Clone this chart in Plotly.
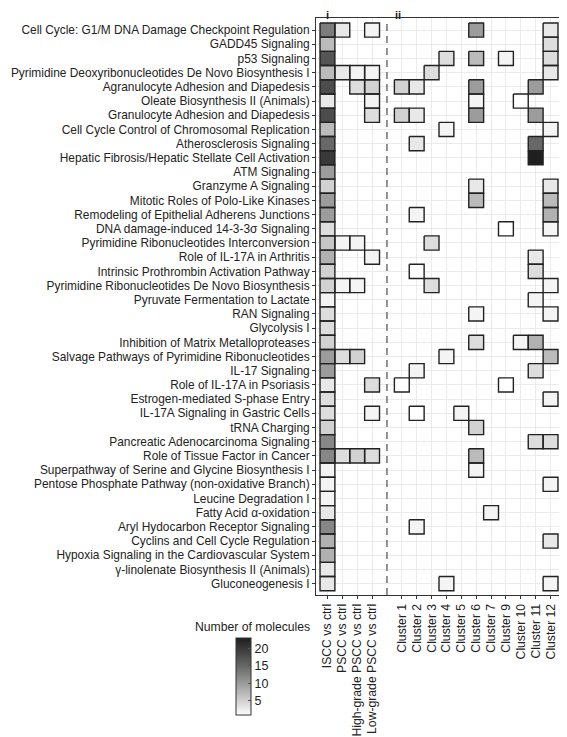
import plotly.graph_objects as go

pathways = [
    "Cell Cycle: G1/M DNA Damage Checkpoint Regulation",
    "GADD45 Signaling",
    "p53 Signaling",
    "Pyrimidine Deoxyribonucleotides De Novo Biosynthesis I",
    "Agranulocyte Adhesion and Diapedesis",
    "Oleate Biosynthesis II (Animals)",
    "Granulocyte Adhesion and Diapedesis",
    "Cell Cycle Control of Chromosomal Replication",
    "Atherosclerosis Signaling",
    "Hepatic Fibrosis/Hepatic Stellate Cell Activation",
    "ATM Signaling",
    "Granzyme A Signaling",
    "Mitotic Roles of Polo-Like Kinases",
    "Remodeling of Epithelial Adherens Junctions",
    "DNA damage-induced 14-3-3σ Signaling",
    "Pyrimidine Ribonucleotides Interconversion",
    "Role of IL-17A in Arthritis",
    "Intrinsic Prothrombin Activation Pathway",
    "Pyrimidine Ribonucleotides De Novo Biosynthesis",
    "Pyruvate Fermentation to Lactate",
    "RAN Signaling",
    "Glycolysis I",
    "Inhibition of Matrix Metalloproteases",
    "Salvage Pathways of Pyrimidine Ribonucleotides",
    "IL-17 Signaling",
    "Role of IL-17A in Psoriasis",
    "Estrogen-mediated S-phase Entry",
    "IL-17A Signaling in Gastric Cells",
    "tRNA Charging",
    "Pancreatic Adenocarcinoma Signaling",
    "Role of Tissue Factor in Cancer",
    "Superpathway of Serine and Glycine Biosynthesis I",
    "Pentose Phosphate Pathway (non-oxidative Branch)",
    "Leucine Degradation I",
    "Fatty Acid α-oxidation",
    "Aryl Hydocarbon Receptor Signaling",
    "Cyclins and Cell Cycle Regulation",
    "Hypoxia Signaling in the Cardiovascular System",
    "γ-linolenate Biosynthesis II (Animals)",
    "Gluconeogenesis I",
]

columns = ["ISCC vs ctrl", "PSCC vs ctrl", "High-grade PSCC vs ctrl", "Low-grade PSCC vs ctrl", " ",
           "Cluster 1", "Cluster 2", "Cluster 3", "Cluster 4", "Cluster 5", "Cluster 6",
           "Cluster 7", "Cluster 9", "Cluster 10", "Cluster 11", "Cluster 12"]

# values per column, keyed by row number (1-based, matching pathways order); missing = no tile
iscc = [13, 7, 17, 7, 18, 3, 18, 7, 15, 20, 10, 5, 10, 10, 4, 6, 8, 5, 5, 2,
        4, 4, 5, 10, 10, 3, 4, 4, 5, 12, 12, 2, 2, 2, 3, 12, 8, 8, 3, 3]
pscc = {1: 3, 4: 3, 16: 2, 19: 2, 24: 4, 31: 4}
high_grade = {4: 2, 5: 4, 16: 2, 19: 2, 24: 5, 31: 5}
low_grade = {1: 2, 4: 2, 5: 5, 6: 2, 7: 4, 17: 2, 26: 4, 28: 2, 31: 4}
cluster1 = {5: 5, 7: 5, 26: 1}
cluster2 = {5: 3, 7: 3, 9: 3, 14: 2, 18: 1, 25: 2, 28: 1, 36: 2}
cluster3 = {4: 4, 16: 4, 19: 4}
cluster4 = {3: 4, 8: 2, 24: 2, 40: 2}
cluster5 = {28: 2}
cluster6 = {1: 10, 3: 7, 5: 10, 6: 2, 7: 10, 12: 3, 13: 7, 21: 2, 23: 4, 29: 5, 31: 7, 32: 2}
cluster7 = {35: 2}
cluster9 = {3: 2, 15: 1, 26: 1}
cluster10 = {6: 1, 23: 2}
cluster11 = {5: 10, 7: 10, 9: 15, 10: 23, 17: 3, 18: 4, 20: 2, 23: 8, 25: 4, 30: 4}
cluster12 = {1: 3, 2: 4, 3: 4, 4: 3, 8: 2, 12: 3, 13: 7, 14: 8, 15: 2, 19: 2, 21: 2,
             24: 7, 27: 2, 30: 4, 33: 2, 37: 3, 40: 2}

colorbar_ticks = [5, 10, 15, 20]

n_rows = len(pathways)
col_data = [
    {i + 1: v for i, v in enumerate(iscc)},
    pscc, high_grade, low_grade, {},
    cluster1, cluster2, cluster3, cluster4, cluster5, cluster6,
    cluster7, cluster9, cluster10, cluster11, cluster12,
]

z = [[col.get(r + 1) for col in col_data] for r in range(n_rows)]


# Lab-like (L*) interpolation white -> near black
def gray_from_L(L):
    Y = ((L + 16) / 116) ** 3 if L > 8 else L / 903.3
    c = 12.92 * Y if Y <= 0.0031308 else 1.055 * Y ** (1 / 2.4) - 0.055
    g = max(0, min(255, round(c * 255)))
    return f"rgb({g},{g},{g})"


L_high = 12.0
stops = 12
colorscale = [[i / (stops - 1), gray_from_L(100 - (100 - L_high) * i / (stops - 1))] for i in range(stops)]

font_family = "Liberation Sans, Arial, sans-serif"
text_size = 12.2

fig = go.Figure()
fig.add_trace(go.Heatmap(
    z=z,
    x=list(range(len(columns))),
    y=list(range(n_rows)),
    zmin=1, zmax=23,
    colorscale=colorscale,
    hoverongaps=False,
    colorbar=dict(
        thickness=15, lenmode="pixels", len=77,
        x=-0.325, xanchor="left", xref="paper",
        y=-0.141, yanchor="middle", yref="paper",
        xpad=0, ypad=0,
        outlinewidth=1, outlinecolor="#333333",
        tickvals=colorbar_ticks,
        ticks="inside", ticklen=3, tickcolor="#555555",
        tickfont=dict(size=12.5, color="#222222", family=font_family),
    ),
))

# tile outlines derived from the data
ox, oy = [], []
for r in range(n_rows):
    for c in range(len(columns)):
        if z[r][c] is not None:
            ox += [c - 0.5, c + 0.5, c + 0.5, c - 0.5, c - 0.5, None]
            oy += [r - 0.5, r - 0.5, r + 0.5, r + 0.5, r - 0.5, None]
fig.add_trace(go.Scatter(x=ox, y=oy, mode="lines", line=dict(color="#222222", width=1.4),
                         hoverinfo="skip", showlegend=False))

gap_index = columns.index(" ")
fig.add_shape(type="line", xref="x", yref="paper", x0=gap_index, x1=gap_index, y0=0, y1=0.99,
              line=dict(color="#666666", width=1.4, dash="7px,5px"))

# panel labels sit at the very top edge of the figure
fig.add_annotation(text="<b>i</b>", xref="x", yref="paper", x=0, y=1.0173, yanchor="top",
                   showarrow=False, borderpad=0,
                   font=dict(size=11, color="#222222", family=font_family))
fig.add_annotation(text="<b>ii</b>", xref="x", yref="paper", x=columns.index("Cluster 1") - 0.25, y=1.0173,
                   yanchor="top", showarrow=False, borderpad=0,
                   font=dict(size=11, color="#222222", family=font_family))
fig.add_annotation(text="Number of molecules", xref="paper", yref="paper", x=-0.50, xanchor="left",
                   y=-0.055, yanchor="middle", showarrow=False,
                   font=dict(size=text_size, color="#222222", family=font_family))

tick_cols = [i for i, c in enumerate(columns) if c.strip()]
fig.update_xaxes(
    range=[-0.77, len(columns) - 1 + 0.77],
    tickvals=tick_cols, ticktext=[columns[i] for i in tick_cols],
    tickangle=-90, ticks="outside", ticklen=3, tickcolor="#333333",
    showgrid=True, gridcolor="#ebebeb", gridwidth=1,
    showline=True, mirror=True, linecolor="#333333", linewidth=1,
    zeroline=False, automargin=False,
    tickfont=dict(size=text_size, color="#222222", family=font_family),
)
fig.update_yaxes(
    range=[n_rows - 1 + 0.8, -0.85],
    tickvals=list(range(n_rows)), ticktext=pathways,
    ticks="outside", ticklen=3, tickcolor="#333333",
    showgrid=True, gridcolor="#ebebeb", gridwidth=1,
    showline=True, mirror=True, linecolor="#333333", linewidth=1,
    zeroline=False, automargin=False,
    tickfont=dict(size=11.9, color="#222222", family=font_family),
)
# the page adds an 8px body margin, so the layout is drawn 8px up/left of the target positions
fig.update_layout(
    width=567, height=737,
    margin=dict(l=308, r=13, t=10, b=150, autoexpand=False),
    plot_bgcolor="white", paper_bgcolor="white",
    font=dict(family=font_family),
    showlegend=False,
)
fig.write_html("out.html")
